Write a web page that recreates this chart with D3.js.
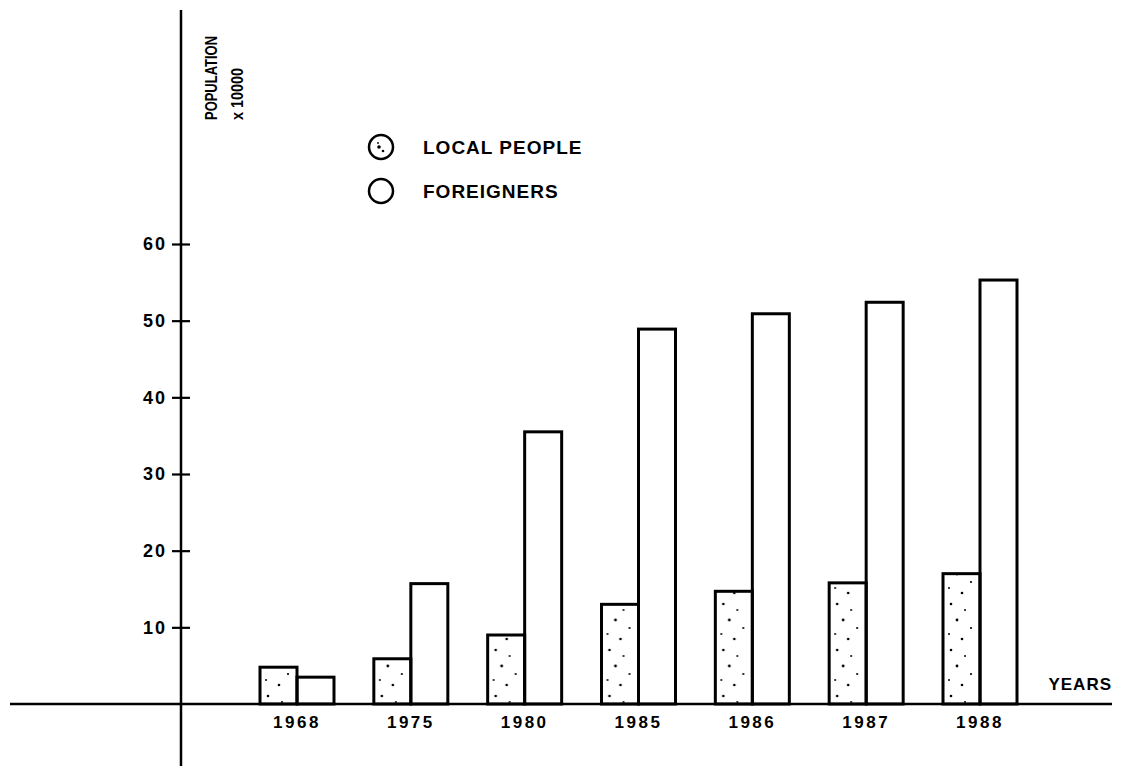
<!DOCTYPE html>
<html>
<head>
<meta charset="utf-8">
<script src="https://cdn.jsdelivr.net/npm/d3@7"></script>
<style>
  html, body { margin: 0; padding: 0; background: #fff; }
  svg { display: block; }
  text { font-family: "Liberation Sans", "DejaVu Sans", sans-serif; font-weight: bold; fill: #000; }
</style>
</head>
<body>
<svg id="chart" width="1123" height="766"></svg>
<script>
// ---- data ----
const years = ["1968", "1975", "1980", "1985", "1986", "1987", "1988"];
const localPeople = [4.8, 5.9, 9.0, 13.0, 14.7, 15.8, 17.0];
const foreigners = [3.5, 15.7, 35.5, 48.9, 50.9, 52.4, 55.3];
const yTicks = [10, 20, 30, 40, 50, 60];
const seriesNames = ["LOCAL PEOPLE", "FOREIGNERS"];

const svg = d3.select("#chart");
const W = 1123, H = 766;
const originX = 181, originY = 704;

// dotted pattern for local people
const defs = svg.append("defs");
const pat = defs.append("pattern")
  .attr("id", "stipple").attr("patternUnits", "userSpaceOnUse")
  .attr("width", 37).attr("height", 46);
pat.append("rect").attr("width", 37).attr("height", 46).attr("fill", "#fff");
[[8,6,1.3],[22,12,1.0],[14,22,1.4],[28,30,1.1],[6,36,1.0],[19,41,1.3]].forEach(d => {
  pat.append("circle").attr("cx", d[0]).attr("cy", d[1]).attr("r", d[2]).attr("fill", "#000");
});
// legend stipple (coordinates relative to the legend item's own origin)
const pat2 = defs.append("pattern")
  .attr("id", "stippleLegend").attr("patternUnits", "userSpaceOnUse")
  .attr("width", 26).attr("height", 26).attr("x", -13).attr("y", -13);
pat2.append("rect").attr("width", 26).attr("height", 26).attr("fill", "#fff");
[[11,13,1.8],[15,17,1.3],[10,9,0.9]].forEach(d => {
  pat2.append("circle").attr("cx", d[0]).attr("cy", d[1]).attr("r", d[2]).attr("fill", "#000");
});

// ---- scales ----
const y = d3.scaleLinear().domain([0, 60]).range([originY, 244]);
const x = d3.scaleBand().domain(years).range([260, 1017]).paddingInner(0.35).paddingOuter(0);
const xs = d3.scaleBand().domain([0, 1]).range([0, x.bandwidth()]).padding(0);

// ---- bars ----
const groups = svg.append("g").selectAll("g").data(years).join("g")
  .attr("transform", d => `translate(${x(d)},0)`);

groups.append("rect")
  .attr("x", xs(0)).attr("width", xs.bandwidth())
  .attr("y", (d, i) => y(localPeople[i]))
  .attr("height", (d, i) => y(0) - y(localPeople[i]))
  .attr("fill", "url(#stipple)").attr("stroke", "#000").attr("stroke-width", 3);

groups.append("rect")
  .attr("x", xs(1)).attr("width", xs.bandwidth())
  .attr("y", (d, i) => y(foreigners[i]))
  .attr("height", (d, i) => y(0) - y(foreigners[i]))
  .attr("fill", "none").attr("stroke", "#000").attr("stroke-width", 3);

// ---- axes lines ----
svg.append("line").attr("x1", 10).attr("x2", 1112).attr("y1", originY).attr("y2", originY)
  .attr("stroke", "#000").attr("stroke-width", 2.5);
svg.append("line").attr("x1", originX).attr("x2", originX).attr("y1", 10).attr("y2", H)
  .attr("stroke", "#000").attr("stroke-width", 2.5);

// ---- y axis ticks ----
const yAxis = svg.append("g").attr("transform", `translate(${originX},0)`)
  .call(d3.axisLeft(y).tickValues(yTicks).tickSize(9).tickPadding(5).tickFormat(d3.format("d")));
yAxis.select(".domain").remove();
yAxis.selectAll(".tick line").attr("x1", -9).attr("x2", 9).attr("stroke", "#000").attr("stroke-width", 2.2);
yAxis.selectAll(".tick text")
  .style("font-family", "'Liberation Sans', sans-serif").style("font-weight", "bold")
  .style("font-size", "18px").attr("letter-spacing", 2).attr("fill", "#000");

// ---- x axis labels ----
const xAxis = svg.append("g").attr("transform", `translate(0,${originY})`)
  .call(d3.axisBottom(x).tickSize(0).tickPadding(12));
xAxis.select(".domain").remove();
xAxis.selectAll(".tick text")
  .style("font-family", "'Liberation Sans', sans-serif").style("font-weight", "bold")
  .style("font-size", "17px").attr("letter-spacing", 2.5).attr("fill", "#000");

svg.append("text").attr("x", 1112).attr("y", 690).attr("text-anchor", "end")
  .style("font-size", "17px").attr("letter-spacing", 1).text("YEARS");

// ---- y label ----
svg.append("text").attr("transform", "translate(217,120) rotate(-90)")
  .style("font-size", "17px").attr("textLength", 84).attr("lengthAdjust", "spacingAndGlyphs")
  .text("POPULATION");
svg.append("text").attr("transform", "translate(243,120) rotate(-90)")
  .style("font-size", "17px").attr("textLength", 52).attr("lengthAdjust", "spacingAndGlyphs")
  .text("x 10000");

// ---- legend ----
const legend = svg.append("g").selectAll("g").data(seriesNames).join("g")
  .attr("transform", (d, i) => `translate(381,${147 + i * 44})`);
legend.append("circle").attr("r", 12)
  .attr("fill", (d, i) => i === 0 ? "url(#stippleLegend)" : "#fff")
  .attr("stroke", "#000").attr("stroke-width", 2.5);
legend.append("text").attr("x", 42).attr("y", 7)
  .style("font-size", "19px").attr("letter-spacing", 1).text(d => d);
</script>
</body>
</html>
